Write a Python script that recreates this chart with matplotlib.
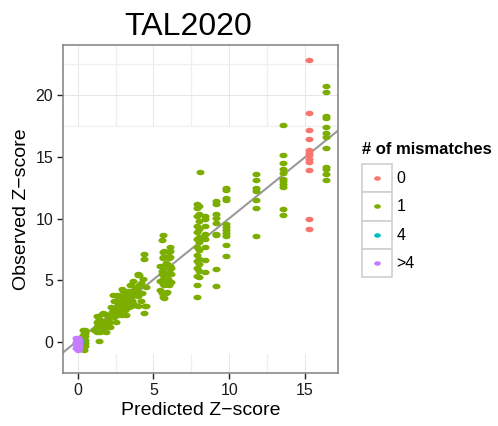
import numpy as np
import matplotlib
matplotlib.use('Agg')
import matplotlib.pyplot as plt
from matplotlib.path import Path
from matplotlib.patches import Rectangle
from matplotlib.lines import Line2D
from matplotlib.legend_handler import HandlerBase

plt.rcParams['font.family'] = ['Liberation Sans', 'DejaVu Sans']

# 数据：预测Z值 vs 观测Z值，按错配数分组
mm0_x = [15.25, 15.25, 15.25, 15.25, 15.25, 15.25, 15.25, 15.25, 15.25, 15.25, 15.25, 15.25]
mm0_y = [22.88, 18.57, 17.16, 16.46, 15.52, 15.31, 15.13, 14.79, 14.58, 13.95, 9.95, 9.17]

mm1_x = [
    # 0附近
    0.35, 0.45, 0.50, 0.35, 0.45, 0.30, 0.45, 0.35, 0.50, 0.35, 0.45, 0.30, 0.40, 1.43,
    # 1~2.5
    1.25, 1.25, 1.50, 1.90, 2.10, 2.50, 1.25, 1.50, 1.90, 2.10, 1.25, 1.50, 1.90,
    1.58, 1.80, 1.69, 1.35, 1.70, 1.10, 2.00, 2.40, 1.40, 1.75, 2.25,
    # 2.2~4.5
    2.20, 2.60, 3.00, 3.40, 2.20, 2.60, 2.90, 3.20, 2.40, 2.85, 3.30, 2.57, 3.00, 3.34,
    2.50, 2.90, 3.20, 3.60, 4.20, 2.70, 3.10, 3.50, 4.00, 4.50, 2.60, 2.90, 3.20, 3.60,
    4.00, 3.00, 3.34, 3.90, 3.50, 4.07, 4.50, 3.67, 4.29, 4.07, 4.00, 3.45, 2.90, 3.90,
    4.44, 4.38, 2.35, 3.56, 3.74, 3.96, 4.40, 4.40, 2.30, 2.75, 3.15, 3.80, 3.30, 2.80,
    2.45, 3.05, 3.45, 3.85, 4.25, 2.65, 3.25, 3.70, 4.15,
    # 5.4~6.2
    5.61, 5.54, 6.09, 5.70, 6.10, 5.85, 5.60, 6.10, 5.90, 5.45, 5.80, 6.10, 5.55, 6.00,
    5.70, 5.45, 5.85, 6.15, 5.70, 6.00, 5.45, 5.90, 5.70, 5.60, 6.05, 5.60, 6.05, 5.85,
    5.60, 5.90, 6.15, 5.55, 5.90, 6.15, 5.65, 5.95, 5.60, 5.90, 5.55, 5.85, 5.60,
    # 8附近
    8.05, 7.85, 8.00, 7.85, 8.00, 7.85, 8.00, 7.85, 8.00, 7.85, 8.00, 7.85, 8.00, 7.85,
    8.00, 7.85, 8.00, 7.85, 8.00, 7.85, 8.00, 7.85, 8.00, 7.85, 7.85,
    8.40, 8.40, 8.40, 8.40, 8.40, 8.40, 8.40, 8.40,
    # 9~10
    9.13, 9.13, 9.13, 9.13, 9.13, 9.13, 9.13, 9.13, 9.13,
    9.77, 9.77, 9.77, 9.77, 9.77, 9.77, 9.77, 9.77, 9.77, 9.77, 9.77,
    # 11.8
    11.77, 11.77, 11.77, 11.77, 11.77, 11.77, 11.77,
    # 13.5
    13.53, 13.53, 13.53, 13.53, 13.53, 13.53, 13.53, 13.53, 13.53, 13.53, 13.53,
    # 16.4
    16.37, 16.37, 16.37, 16.37, 16.37, 16.37, 16.37, 16.37, 16.37, 16.37, 16.37, 16.37,
]
mm1_y = [
    1.00, 0.95, 0.75, 0.55, 0.50, 0.30, 0.20, 0.05, -0.05, -0.20, -0.30, -0.45, -0.60, 0.08,
    2.10, 1.65, 1.65, 1.65, 1.65, 1.65, 1.25, 1.25, 1.25, 1.25, 0.86, 0.86, 0.86,
    2.27, 2.27, 2.37, 1.45, 1.05, 1.00, 1.95, 2.00, 1.90, 1.45, 2.45,
    2.82, 2.82, 2.82, 2.82, 2.23, 2.23, 2.23, 2.23, 3.37, 3.37, 3.37, 3.84, 3.84, 3.84,
    3.30, 3.30, 3.30, 3.30, 3.30, 2.90, 2.90, 2.90, 2.90, 2.90, 3.70, 3.70, 3.70, 3.70,
    3.70, 4.15, 4.15, 4.15, 4.60, 4.60, 4.48, 4.99, 5.10, 5.43, 5.46, 4.65, 4.33, 4.33,
    2.95, 2.37, 3.81, 3.29, 3.81, 5.51, 7.16, 6.74, 2.50, 2.55, 2.60, 3.00, 3.05, 3.10,
    2.65, 3.55, 3.95, 4.40, 3.95, 3.10, 4.00, 4.25, 4.75,
    8.70, 8.30, 7.73, 7.34, 7.34, 6.87, 6.87, 6.87, 6.29, 6.17, 6.17, 6.17, 5.78, 5.64,
    5.38, 4.99, 4.95, 4.90, 4.60, 4.65, 4.20, 4.08, 3.60, 7.26, 7.26, 6.82, 6.82, 6.43,
    6.07, 6.07, 6.00, 5.51, 5.51, 5.51, 5.12, 5.12, 4.70, 4.70, 4.00, 4.00, 3.68,
    13.80, 11.18, 11.00, 10.87, 10.40, 10.21, 9.82, 9.43, 9.17, 8.91, 8.52, 8.39, 8.13, 7.73,
    7.47, 7.08, 6.74, 6.56, 6.29, 6.03, 5.78, 5.38, 5.25, 4.60, 3.68,
    10.21, 9.95, 9.43, 8.78, 8.39, 7.73, 6.69, 5.70,
    11.39, 11.18, 10.34, 10.03, 9.64, 8.78, 8.65, 5.90, 4.55,
    12.49, 12.30, 11.70, 11.51, 9.56, 9.35, 9.09, 8.83, 8.57, 7.86, 6.95,
    13.60, 13.09, 12.44, 12.23, 11.51, 10.87, 8.57,
    17.55, 15.18, 14.50, 14.00, 13.71, 13.22, 13.03, 12.83, 12.54, 10.82, 10.27,
    20.77, 20.22, 18.31, 18.18, 17.40, 16.93, 16.61, 15.75, 14.18, 14.05, 13.64, 13.09,
]

mm4_x = [0.12, 0.12]
mm4_y = [0.15, 0.00]

mm5_x = [-0.10, 0.05, -0.05, 0.08, -0.10, 0.02, 0.10, -0.08, 0.05, -0.03, 0.08, -0.10, 0.03, 0.00]
mm5_y = [0.35, 0.30, 0.20, 0.15, 0.05, 0.00, -0.05, -0.15, -0.20, -0.30, -0.40, -0.45, -0.55, -0.65]

groups = ['0', '1', '4', '>4']
colors = ['#F8766D', '#7CAE00', '#00BFC4', '#C77CFF']

# 拟合直线
fit_slope = 0.99
fit_intercept = 0.12

circle = Path.unit_circle()
ellipse = Path(circle.vertices * [1.0, 0.68], circle.codes)


class BoxedDot(HandlerBase):
    def create_artists(self, legend, orig_handle, xdescent, ydescent, width, height, fontsize, trans):
        box = Rectangle((-xdescent, -ydescent), width, height, facecolor='white',
                        edgecolor='#cfcfcf', linewidth=1.2, transform=trans)
        dot = Line2D([width / 2 - xdescent], [height / 2 - ydescent], marker=ellipse, markersize=4.8,
                     linestyle='none', color=orig_handle.get_color(), markeredgewidth=0, transform=trans)
        return [box, dot]


fig = plt.figure(figsize=(4.98, 4.26), dpi=100)
ax = fig.add_axes([0.1265, 0.1244, 0.5522, 0.770])

ax.set_xlim(-0.97, 17.18)
ax.set_ylim(-1.65, 24.06)

ax.set_xticks([0, 5, 10, 15])
ax.set_yticks([0, 5, 10, 15, 20])
ax.set_xticks([2.5, 7.5, 12.5], minor=True)
ax.set_yticks([-2.5, 2.5, 7.5, 12.5, 17.5, 22.5], minor=True)
ax.set_axisbelow(True)
ax.grid(True, which='major', color='#e6e6e6', linewidth=0.7)
ax.grid(True, which='minor', color='#efefef', linewidth=0.9)
ax.tick_params(which='minor', length=0)
ax.tick_params(which='major', length=4, width=1, color='#222222', labelsize=11.5,
               labelcolor='#1a1a1a', pad=3)
for sp in ax.spines.values():
    sp.set_color('#808080')
    sp.set_linewidth(1.1)

# 面板中部白底
ax.add_patch(Rectangle((-0.97, -1.0), 18.2, 18.42, facecolor='white', edgecolor='none', zorder=1))

ax.axline((0, fit_intercept), slope=fit_slope, color='#999999', linewidth=1.5, zorder=2)

series = [(mm0_x, mm0_y), (mm1_x, mm1_y), (mm4_x, mm4_y), (mm5_x, mm5_y)]
handles = []
for (xs, ys), g, c in zip(series, groups, colors):
    ax.scatter(xs, ys, s=34, marker=ellipse, color=c, linewidths=0, zorder=3)
    handles.append(Line2D([], [], color=c, label=g))

ax.set_xlabel('Predicted Z\u2212score', fontsize=14, labelpad=3)
ax.set_ylabel('Observed Z\u2212score', fontsize=14, labelpad=4)
fig.text(0.3775, 0.918, 'TAL2020', fontsize=23, ha='center', va='baseline')

leg = fig.legend(handles=handles, labels=groups, handler_map={Line2D: BoxedDot()},
                 loc='upper left', bbox_to_anchor=(361.5 / 498, 1 - 142 / 426),
                 frameon=False, fontsize=11.5, title='# of mismatches',
                 title_fontproperties={'weight': 'bold', 'size': 12},
                 handlelength=1.9, handleheight=2.35, handletextpad=0.3,
                 labelspacing=0, borderpad=0, borderaxespad=0)
leg._legend_box.align = 'left'
leg._legend_box.sep = 5

fig.savefig('out.png', dpi=100)
